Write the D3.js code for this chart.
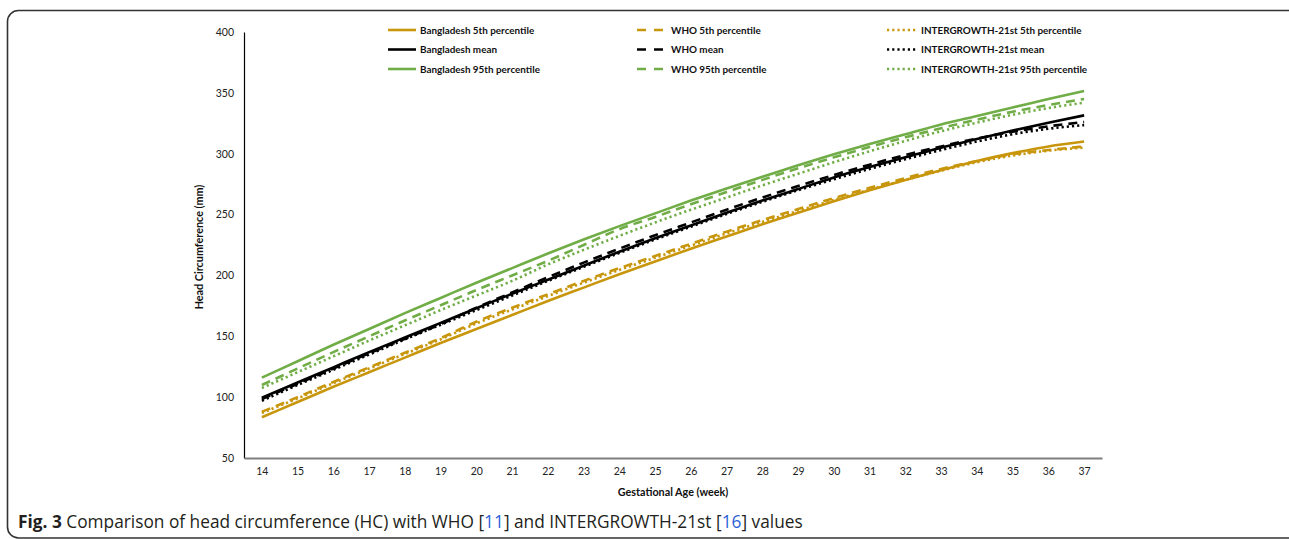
<!DOCTYPE html>
<html><head><meta charset="utf-8">
<script src="https://cdn.jsdelivr.net/npm/d3@7"></script>
<style>
body{margin:0;background:#fff;}
svg{display:block;}
</style></head>
<body>
<svg id="chart" width="1289" height="539"></svg>
<script>
const weeks = [14,15,16,17,18,19,20,21,22,23,24,25,26,27,28,29,30,31,32,33,34,35,36,37];
const yTicks = [50,100,150,200,250,300,350,400];

const bd5   = [83.5,96,108.5,120.5,132.5,144.5,156,167.5,179,190,201,211.5,222,232,242,251.5,261,270,278.5,286.5,294,300.5,306,310];
const bdMean= [99.5,112,124.5,137,149,161,173,185,196.5,208,219.5,230.5,241,251.5,261.5,271,280.5,289,297,305,312,319,325.5,331.5];
const bd95  = [116,129.5,143,156,169,181.5,194,206,218,229.5,240.5,251,261.5,271.5,281,290.5,299.5,308,316,324,331,338,345,351.5];

const who5   = [88,100,112.5,124.5,136.5,148.5,162,173.5,184.5,195.5,206,216,226,236,245.5,254.5,263.5,272,280,287.5,294,299.5,303,306];
const whoMean= [98.5,111,123.5,136,148,160,173.5,186,198.5,210.5,222,233,243.5,254,264,273.5,282.5,291,299,306,312.5,318,322.5,326];
const who95  = [110,123.5,137,150,163,175.5,188,200,212,225,238,248,258.5,268.5,278.5,288,297,305.5,313.5,321,328,334.5,340,345];

const ig5   = [87,99,111.5,123.5,135.5,147.5,160.5,172,183,194,204.5,214.5,224.5,234.5,244,253,262,270.5,278.5,286,293,298.5,302.5,305];
const igMean= [97,110,122.5,135,147.5,159.5,171.5,183.5,195.5,207,218.5,229.5,240,250.5,260.5,270,279,287.5,295.5,303,310,316,320.5,323.5];
const ig95  = [107.5,120.5,133.5,146.5,159,171.5,183.5,195.5,209,221,232.5,243.5,254,264,274,283.5,293,302,310.5,318.5,325.5,332,337.5,342];

const GOLD = "#C8960C", BLACK = "#000000", GREEN = "#70AD47";
const SOLID = null, DASH = "9,6", DOT = "2.2,3";

const series = [
  {name:"Bangladesh 5th percentile", values:bd5, color:GOLD, dash:SOLID, col:0, row:0},
  {name:"Bangladesh mean", values:bdMean, color:BLACK, dash:SOLID, col:0, row:1},
  {name:"Bangladesh 95th percentile", values:bd95, color:GREEN, dash:SOLID, col:0, row:2},
  {name:"WHO 5th percentile", values:who5, color:GOLD, dash:DASH, col:1, row:0},
  {name:"WHO mean", values:whoMean, color:BLACK, dash:DASH, col:1, row:1},
  {name:"WHO 95th percentile", values:who95, color:GREEN, dash:DASH, col:1, row:2},
  {name:"INTERGROWTH-21st 5th percentile", values:ig5, color:GOLD, dash:DOT, col:2, row:0},
  {name:"INTERGROWTH-21st mean", values:igMean, color:BLACK, dash:DOT, col:2, row:1},
  {name:"INTERGROWTH-21st 95th percentile", values:ig95, color:GREEN, dash:DOT, col:2, row:2}
];

const svg = d3.select("#chart");
const FONT = "Lato, 'Open Sans', sans-serif";

// frame
svg.append("rect").attr("x",7.5).attr("y",10.5).attr("width",1300).attr("height",527.5)
  .attr("rx",11).attr("ry",11).attr("fill","none").attr("stroke","#333").attr("stroke-width",1.6);

const pLeft = 244, pRight = 1102, pTop = 32, pBottom = 458;
const x = d3.scalePoint().domain(weeks).range([pLeft,pRight]).padding(0.5);
const y = d3.scaleLinear().domain([50,400]).range([pBottom,pTop]);

// y axis
const yAxis = svg.append("g").attr("transform",`translate(${pLeft},0)`)
  .call(d3.axisLeft(y).tickValues(yTicks).tickSize(0).tickPadding(10));
yAxis.select(".domain").attr("stroke","#000").attr("stroke-width",1.2);
yAxis.selectAll("text").attr("font-family",FONT).attr("font-size",10.5).attr("fill","#222");

// x axis
const xAxis = svg.append("g").attr("transform",`translate(0,${pBottom})`)
  .call(d3.axisBottom(x).tickSize(0).tickPadding(10));
xAxis.select(".domain").attr("stroke","#7f7f7f").attr("stroke-width",1.8);
xAxis.selectAll("text").attr("font-family",FONT).attr("font-size",10.5).attr("fill","#222");

// axis titles
svg.append("text").attr("x",(pLeft+pRight)/2).attr("y",496).attr("text-anchor","middle")
  .attr("font-family",FONT).attr("font-weight","bold").attr("font-size",10.8).attr("fill","#111")
  .text("Gestational Age (week)");
svg.append("text").attr("transform",`translate(203,${(pTop+pBottom)/2+2}) rotate(-90)`)
  .attr("text-anchor","middle")
  .attr("font-family",FONT).attr("font-weight","bold").attr("font-size",10.8).attr("fill","#111")
  .text("Head Circumference (mm)");

// lines
const line = d3.line().x((d,i)=>x(weeks[i])).y(d=>y(d)).curve(d3.curveMonotoneX);
svg.append("g").selectAll("path").data(series).join("path")
  .attr("d",d=>line(d.values))
  .attr("fill","none")
  .attr("stroke",d=>d.color)
  .attr("stroke-width",2.6)
  .attr("stroke-dasharray",d=>d.dash)
  .attr("stroke-linecap","butt");

// legend
const colX = [388, 637, 887];
const rowY = [30, 49.5, 69];
const lg = svg.append("g").selectAll("g").data(series).join("g")
  .attr("transform",d=>`translate(${colX[d.col]},${rowY[d.row]})`);
lg.append("line").attr("x1",0).attr("x2",d=>d.col===2?30:28).attr("y1",0).attr("y2",0)
  .attr("stroke",d=>d.color).attr("stroke-width",2.6)
  .attr("stroke-dasharray",d=>d.dash===DASH?"9,8":d.dash);
lg.append("text").attr("x",d=>d.col===0?32:34).attr("y",3.5)
  .attr("font-family",FONT).attr("font-weight","bold").attr("font-size",9.9).attr("fill","#111")
  .text(d=>d.name);

// caption
const cap = svg.append("text").attr("x",18).attr("y",528)
  .attr("font-family","'Open Sans', sans-serif").attr("font-size",17.3).attr("fill","#231f20");
cap.append("tspan").attr("font-weight","bold").text("Fig. 3");
cap.append("tspan").text(" Comparison of head circumference (HC) with WHO [");
cap.append("tspan").attr("fill","#2b5fd9").text("11");
cap.append("tspan").text("] and INTERGROWTH-21st [");
cap.append("tspan").attr("fill","#2b5fd9").text("16");
cap.append("tspan").text("] values");
</script>
</body></html>
